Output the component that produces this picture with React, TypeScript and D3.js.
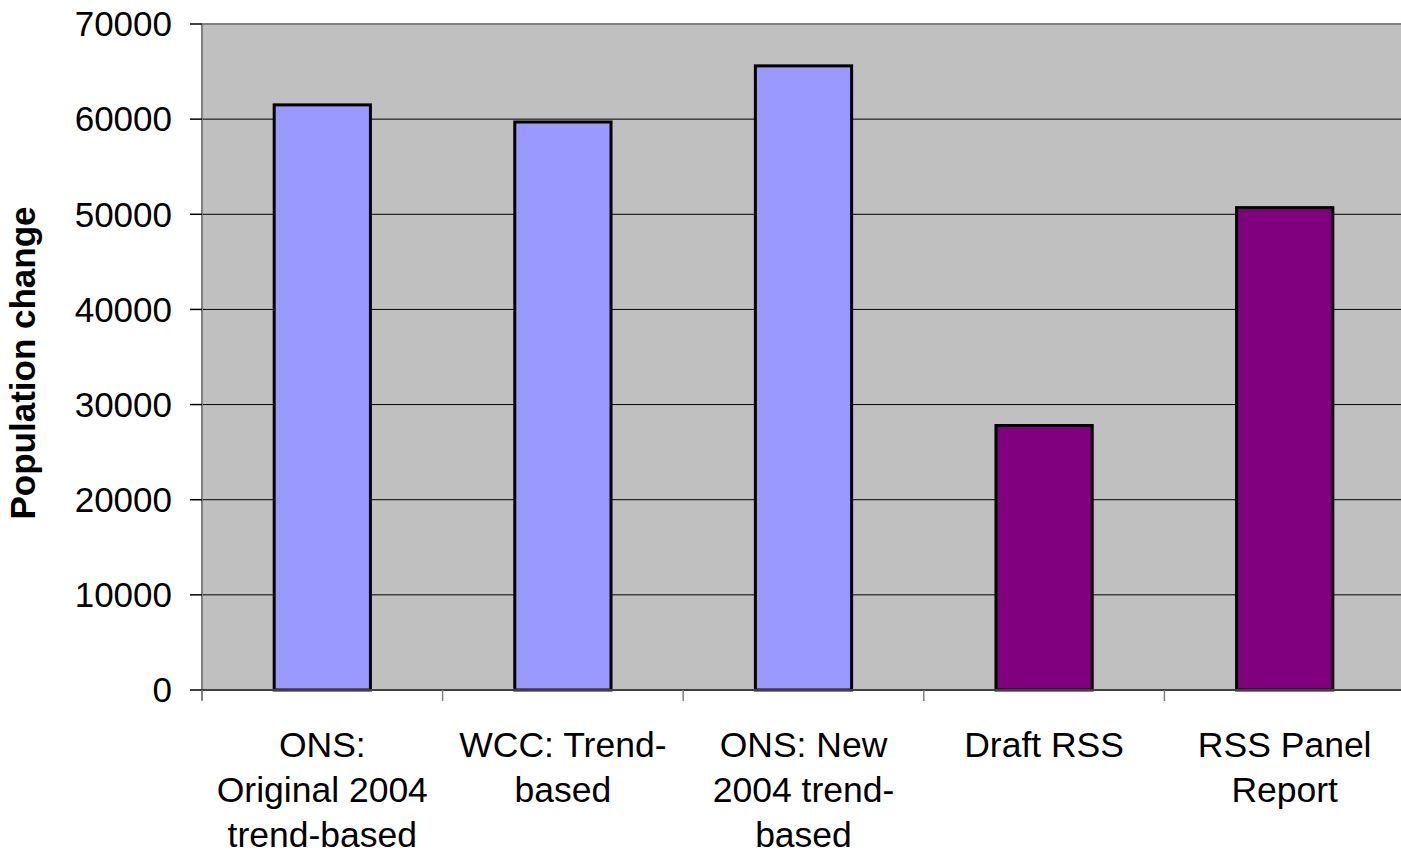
import React, { useEffect, useRef } from "react";
import * as d3 from "d3";

const categories = [
  ["ONS:", "Original 2004", "trend-based"],
  ["WCC: Trend-", "based"],
  ["ONS: New", "2004 trend-", "based"],
  ["Draft RSS"],
  ["RSS Panel", "Report"],
];
const values = [61500, 59700, 65600, 27800, 50700];
const barColors = ["#9999FF", "#9999FF", "#9999FF", "#800080", "#800080"];
const yTicks = [0, 10000, 20000, 30000, 40000, 50000, 60000, 70000];

const App = () => {
  const svgRef = useRef<SVGSVGElement>(null);

  useEffect(() => {
    const width = 1401;
    const height = 853;
    const margin = { top: 24, right: -4, bottom: 163, left: 202 };
    const plotW = width - margin.left - margin.right;
    const plotH = height - margin.top - margin.bottom;

    const svg = d3.select(svgRef.current);
    svg.selectAll("*").remove();

    const g = svg
      .append("g")
      .attr("transform", `translate(${margin.left}, ${margin.top})`);

    const xScale = d3
      .scaleBand<number>()
      .domain(d3.range(categories.length))
      .range([0, plotW])
      .paddingInner(0.6)
      .paddingOuter(0.3);

    const yScale = d3.scaleLinear().domain([0, 70000]).range([plotH, 0]);

    g.append("rect")
      .attr("x", 0)
      .attr("y", 0)
      .attr("width", plotW)
      .attr("height", plotH)
      .attr("fill", "#C0C0C0");

    // gridlines
    g.selectAll(".grid")
      .data(yTicks.filter((d) => d > 0 && d < 70000))
      .enter()
      .append("line")
      .attr("x1", 0)
      .attr("x2", plotW)
      .attr("y1", (d) => yScale(d))
      .attr("y2", (d) => yScale(d))
      .attr("stroke", "#000")
      .attr("stroke-width", 1);

    // top border
    g.append("line")
      .attr("x1", 0)
      .attr("x2", plotW)
      .attr("y1", 0)
      .attr("y2", 0)
      .attr("stroke", "#808080")
      .attr("stroke-width", 2);

    // bars
    g.selectAll(".bar")
      .data(values)
      .enter()
      .append("rect")
      .attr("x", (_d, i) => xScale(i)!)
      .attr("y", (d) => yScale(d))
      .attr("width", xScale.bandwidth())
      .attr("height", (d) => plotH - yScale(d))
      .attr("fill", (_d, i) => barColors[i])
      .attr("stroke", "#000")
      .attr("stroke-width", 3);

    // y axis
    g.append("line")
      .attr("x1", 0)
      .attr("x2", 0)
      .attr("y1", 0)
      .attr("y2", plotH + 10)
      .attr("stroke", "#808080")
      .attr("stroke-width", 2);

    g.selectAll(".ytick")
      .data(yTicks)
      .enter()
      .append("line")
      .attr("x1", -12)
      .attr("x2", 0)
      .attr("y1", (d) => yScale(d))
      .attr("y2", (d) => yScale(d))
      .attr("stroke", "#000")
      .attr("stroke-width", 1.5);

    g.selectAll(".ylabel")
      .data(yTicks)
      .enter()
      .append("text")
      .attr("x", -30)
      .attr("y", (d) => yScale(d))
      .attr("dy", "0.35em")
      .attr("text-anchor", "end")
      .attr("font-family", "Liberation Sans, Arial, sans-serif")
      .attr("font-size", 35)
      .attr("fill", "#000")
      .text((d) => String(d));

    // x axis
    g.append("line")
      .attr("x1", 0)
      .attr("x2", plotW)
      .attr("y1", plotH)
      .attr("y2", plotH)
      .attr("stroke", "#404040")
      .attr("stroke-width", 2);

    const step = xScale.step();
    g.selectAll(".xtick")
      .data(d3.range(categories.length + 1))
      .enter()
      .append("line")
      .attr("x1", (d) => d * step)
      .attr("x2", (d) => d * step)
      .attr("y1", plotH)
      .attr("y2", plotH + 11)
      .attr("stroke", "#808080")
      .attr("stroke-width", 1.5);

    const labels = g
      .selectAll(".xlabel")
      .data(categories)
      .enter()
      .append("text")
      .attr("text-anchor", "middle")
      .attr("font-family", "Liberation Sans, Arial, sans-serif")
      .attr("font-size", 35.5)
      .attr("fill", "#000");

    labels
      .selectAll("tspan")
      .data((d, i) => d.map((line) => ({ line, i })))
      .enter()
      .append("tspan")
      .attr("x", (d) => xScale(d.i)! + xScale.bandwidth() / 2)
      .attr("y", (_d, j) => plotH + 67 + j * 45)
      .text((d) => d.line);

    // y axis title
    svg
      .append("text")
      .attr("transform", `translate(35, ${margin.top + plotH / 2 + 6}) rotate(-90)`)
      .attr("text-anchor", "middle")
      .attr("font-family", "Liberation Sans, Arial, sans-serif")
      .attr("font-weight", "bold")
      .attr("font-size", 35)
      .attr("fill", "#000")
      .text("Population change");
  }, []);

  return (
    <svg
      ref={svgRef}
      width={1401}
      height={853}
      style={{ position: "absolute", left: 0, top: 0, background: "#fff" }}
    />
  );
};

export default App;
